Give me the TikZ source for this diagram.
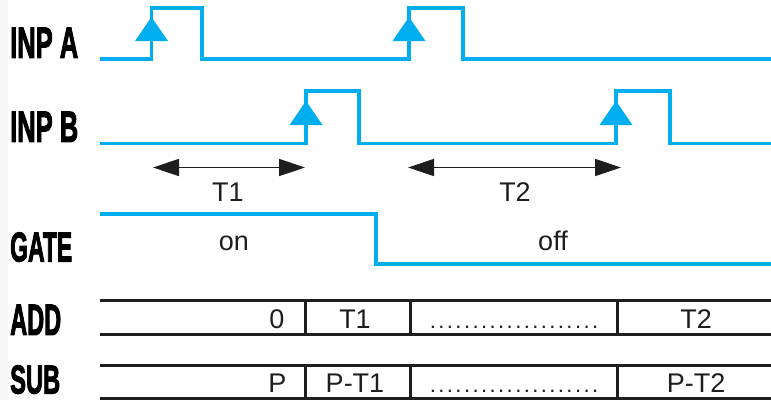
\documentclass[tikz,border=0pt]{standalone}
\usepackage{fontspec}
\setmainfont{Liberation Sans}
\newfontfamily\labfont[FakeBold=3]{Liberation Sans Bold}
\usetikzlibrary{arrows.meta}
\definecolor{sig}{RGB}{0,174,239}
\definecolor{ink}{RGB}{30,30,30}
\newcommand{\lbl}[3]{\resizebox{#1pt}{#2pt}{\labfont #3}}
\begin{document}
\begin{tikzpicture}[x=1pt,y=-1pt,
  wave/.style={sig, line width=3.6pt, line join=miter},
  edgemark/.style={fill=sig, draw=none},
  bus/.style={ink, line width=3pt},
  span/.style={ink, line width=1.4pt, {Triangle[length=26pt,width=17pt]}-{Triangle[length=26pt,width=17pt]}},
  lab/.style={anchor=south west, inner sep=0pt, text=black},
  txt/.style={anchor=base, inner sep=0pt, font=\fontsize{27}{27}\selectfont, text=ink}]
\useasboundingbox (0,0) rectangle (771,400);
\fill[white] (0,0) rectangle (771,400);
\fill[gray!6] (0,0) rectangle (8,400);

% labels
\node[lab] (inpa) at (10,58) {\lbl{68}{30}{INP A}};
\node[lab] (inpb) at (10,142) {\lbl{68}{30}{INP B}};
\node[lab] (gate) at (10,262) {\lbl{62}{29}{GATE}};
\node[lab] (add)  at (10,335) {\lbl{51}{30}{ADD}};
\node[lab] (sub)  at (10,394) {\lbl{50}{28}{SUB}};

% INP A
\draw[wave] (100,59) -- (151.5,59) -- (151.5,8) -- (202,8) -- (202,59) -- (409,59) -- (409,8) -- (463,8) -- (463,59) -- (771,59);
\fill[edgemark] (151.5,17) -- (135,41) -- (168,41) -- cycle;
\fill[edgemark] (409,17) -- (392.5,41) -- (425.5,41) -- cycle;

% INP B
\draw[wave] (100,143.5) -- (306,143.5) -- (306,91) -- (359,91) -- (359,143.5) -- (616,143.5) -- (616,91) -- (670,91) -- (670,143.5) -- (771,143.5);
\fill[edgemark] (306,101) -- (289.5,125) -- (322.5,125) -- cycle;
\fill[edgemark] (616,101) -- (599.5,125) -- (632.5,125) -- cycle;

% T1 / T2 spans
\coordinate (t1a) at (153,167.5);
\coordinate (t1b) at (305,167.5);
\coordinate (t2a) at (408,167.5);
\coordinate (t2b) at (621,167.5);
\draw[span] (t1a) -- (t1b);
\draw[span] (t2a) -- (t2b);
\node[txt] (t1lab) at (228,201) {T1};
\node[txt] (t2lab) at (515,201) {T2};

% GATE
\draw[wave] (100,214) -- (376,214) -- (376,264) -- (771,264);
\node[txt] (on)  at (234,250) {on};
\node[txt] (off) at (553,250) {off};

% ADD bus
\draw[bus] (100,300.5) -- (771,300.5);
\draw[bus] (100,334) -- (771,334);
\draw[bus] (305,300.5) -- (305,334);
\draw[bus] (410,300.5) -- (410,334);
\draw[bus] (617.5,300.5) -- (617.5,334);
\node[txt] (a0) at (277,328) {0};
\node[txt] (a1) at (355,328) {T1};
\node[txt, font=\fontsize{22}{22}\selectfont] (a2) at (514,328) {\addfontfeatures{LetterSpace=11}....................};
\node[txt] (a3) at (696,328) {T2};

% SUB bus
\draw[bus] (100,365) -- (771,365);
\draw[bus] (100,398) -- (771,398);
\draw[bus] (305,365) -- (305,398);
\draw[bus] (410,365) -- (410,398);
\draw[bus] (617.5,365) -- (617.5,398);
\node[txt] (s0) at (277.5,392) {P};
\node[txt] (s1) at (355,392) {P-T1};
\node[txt, font=\fontsize{22}{22}\selectfont] (s2) at (514,392) {\addfontfeatures{LetterSpace=11}....................};
\node[txt] (s3) at (696,392) {P-T2};
\end{tikzpicture}
\end{document}
